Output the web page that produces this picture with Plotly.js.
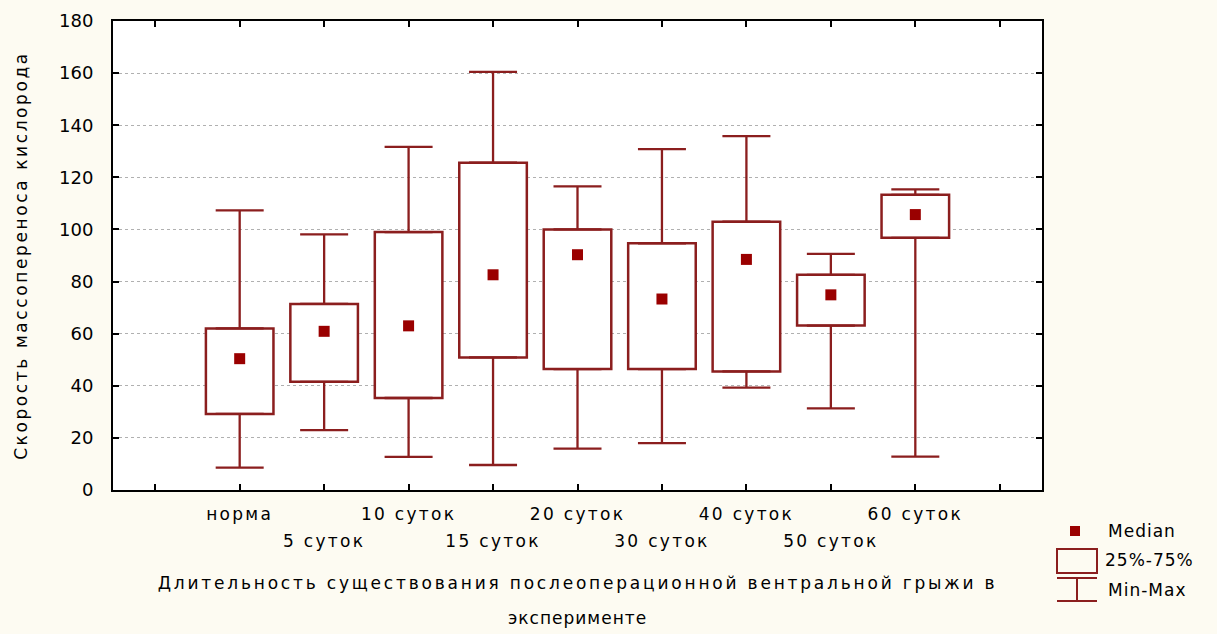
<!DOCTYPE html>
<html>
<head>
<meta charset="utf-8">
<script src="https://cdn.plot.ly/plotly-3.0.1.min.js"></script>
<style>
  html, body { margin: 0; padding: 0; background: #FDFBF2; }
  #chart { width: 1217px; height: 634px; }
  .xtick text, .x2tick text { letter-spacing: 2.3px; }
  text.xtitle { letter-spacing: 2.8px; }
  text.ytitle { letter-spacing: 2.6px; }
  text.annotation-text { letter-spacing: 1px; }
</style>
</head>
<body>
<div id="chart"></div>
<script>
// ---- data ----
const categories = ['норма', '5 суток', '10 суток', '15 суток', '20 суток', '30 суток', '40 суток', '50 суток', '60 суток'];
const minVals    = [8.6, 23.0, 12.7, 9.6, 15.9, 18.0, 39.3, 31.3, 12.8];
const q1Vals     = [29.2, 41.5, 35.3, 50.9, 46.4, 46.4, 45.5, 63.1, 96.8];
const medianVals = [50.4, 60.9, 63.0, 82.6, 90.3, 73.3, 88.5, 74.9, 105.7];
const q3Vals     = [62.0, 71.4, 99.0, 125.6, 100.0, 94.7, 103.0, 82.6, 113.3];
const maxVals    = [107.3, 98.1, 131.7, 160.5, 116.5, 130.8, 135.8, 90.6, 115.4];
const yTicks     = [0, 20, 40, 60, 80, 100, 120, 140, 160, 180];
const yTitle = 'Скорость массопереноса кислорода';
const xTitleLine1 = 'Длительность существования послеоперационной вентральной грыжи в';
const xTitleLine2 = 'эксперименте';
const legendLabels = ['Median', '25%-75%', 'Min-Max'];

// ---- styling ----
const LINE = '#8B1E1E';
const MED = '#9A0000';
const FONT = 'DejaVu Sans, Arial, sans-serif';

const pos = categories.map((c, i) => i);
const allTicks = [-1].concat(pos, [categories.length]);
const row1Text = allTicks.map(t => (t >= 0 && t < categories.length && t % 2 === 0) ? categories[t] : '');
const oddPos = pos.filter(i => i % 2 === 1);
const oddText = oddPos.map(i => categories[i]);

const boxTrace = {
  type: 'bar', x: pos, base: q1Vals, y: q3Vals.map((v, i) => v - q1Vals[i]),
  width: 0.8, marker: { color: '#ffffff', line: { color: LINE, width: 2.5 } },
  hoverinfo: 'skip', showlegend: false
};
const lowerWhisker = {
  type: 'scatter', mode: 'markers', x: pos, y: q1Vals,
  marker: { size: 1, opacity: 0 },
  error_y: { type: 'data', symmetric: false, array: pos.map(() => 0),
             arrayminus: q1Vals.map((v, i) => v - minVals[i]),
             color: LINE, thickness: 2.3, width: 24 },
  hoverinfo: 'skip', showlegend: false
};
const upperWhisker = {
  type: 'scatter', mode: 'markers', x: pos, y: q3Vals,
  marker: { size: 1, opacity: 0 },
  error_y: { type: 'data', symmetric: false, array: maxVals.map((v, i) => v - q3Vals[i]),
             arrayminus: pos.map(() => 0),
             color: LINE, thickness: 2.3, width: 24 },
  hoverinfo: 'skip', showlegend: false
};
const medianTrace = {
  type: 'scatter', mode: 'markers', x: pos, y: medianVals, xaxis: 'x2',
  marker: { symbol: 'square', size: 11, color: MED },
  showlegend: false
};

// pixel -> paper helpers for the hand-drawn legend
const L = 113, R = 1042, T = 21, B = 490;
const px = x => (x - L) / (R - L);
const py = y => (B - y) / (B - T);

const shapes = [
  { type: 'rect', xref: 'paper', yref: 'paper', x0: px(1070), x1: px(1080), y0: py(536), y1: py(526),
    fillcolor: MED, line: { width: 0 } },
  { type: 'rect', xref: 'paper', yref: 'paper', x0: px(1057), x1: px(1097), y0: py(573), y1: py(549),
    fillcolor: 'rgba(0,0,0,0)', line: { color: LINE, width: 2 } },
  { type: 'line', xref: 'paper', yref: 'paper', x0: px(1057), x1: px(1097), y0: py(578), y1: py(578),
    line: { color: LINE, width: 2 } },
  { type: 'line', xref: 'paper', yref: 'paper', x0: px(1077), x1: px(1077), y0: py(578), y1: py(601),
    line: { color: LINE, width: 2 } },
  { type: 'line', xref: 'paper', yref: 'paper', x0: px(1057), x1: px(1097), y0: py(601), y1: py(601),
    line: { color: LINE, width: 2 } }
];

const annotations = [
  { xref: 'paper', yref: 'paper', x: 0.5, y: py(618), text: xTitleLine2, showarrow: false,
    xanchor: 'center', yanchor: 'middle', font: { family: FONT, size: 17, color: '#000' } },
  { xref: 'paper', yref: 'paper', x: px(1106), y: py(531), text: legendLabels[0], showarrow: false,
    xanchor: 'left', yanchor: 'middle', font: { family: FONT, size: 17, color: '#000' } },
  { xref: 'paper', yref: 'paper', x: px(1103), y: py(560), text: legendLabels[1], showarrow: false,
    xanchor: 'left', yanchor: 'middle', font: { family: FONT, size: 17, color: '#000' } },
  { xref: 'paper', yref: 'paper', x: px(1106), y: py(590), text: legendLabels[2], showarrow: false,
    xanchor: 'left', yanchor: 'middle', font: { family: FONT, size: 17, color: '#000' } }
];

const layout = {
  width: 1217, height: 634,
  margin: { l: L, r: 1217 - R, t: T, b: 634 - B, pad: 0 },
  paper_bgcolor: '#FDFBF2', plot_bgcolor: '#ffffff',
  font: { family: FONT, size: 17, color: '#000' },
  showlegend: false,
  bargap: 0,
  xaxis: {
    range: [-1.5, categories.length + 0.5], tickmode: 'array', tickvals: allTicks, ticktext: row1Text,
    showgrid: false, zeroline: false,
    showline: true, linecolor: '#000', linewidth: 2, mirror: 'ticks',
    ticks: 'inside', ticklen: 6, tickwidth: 2, tickcolor: '#000',
    ticklabelstandoff: 8, tickangle: 0,
    title: { text: xTitleLine1, standoff: 54, font: { family: FONT, size: 17 } },
    automargin: false
  },
  xaxis2: {
    overlaying: 'x', anchor: 'y', side: 'bottom', matches: 'x',
    range: [-1.5, categories.length + 0.5], tickmode: 'array', tickvals: oddPos, ticktext: oddText,
    showgrid: false, zeroline: false, showline: false, ticks: '', ticklabelstandoff: 39, tickangle: 0,
    automargin: false
  },
  yaxis: {
    range: [0, 180], tickmode: 'array', tickvals: yTicks,
    showgrid: true, gridcolor: '#b0b0b0', griddash: 'dot', gridwidth: 1, zeroline: false,
    showline: true, linecolor: '#000', linewidth: 2, mirror: 'ticks',
    ticks: 'inside', ticklen: 6, tickwidth: 2, tickcolor: '#000',
    ticklabelstandoff: 14, tickfont: { family: FONT, size: 18 },
    title: { text: yTitle, standoff: 27, font: { family: FONT, size: 17 } },
    automargin: false
  },
  shapes: shapes,
  annotations: annotations
};

Plotly.newPlot('chart', [boxTrace, lowerWhisker, upperWhisker, medianTrace], layout, { staticPlot: true, displayModeBar: false });
</script>
</body>
</html>
